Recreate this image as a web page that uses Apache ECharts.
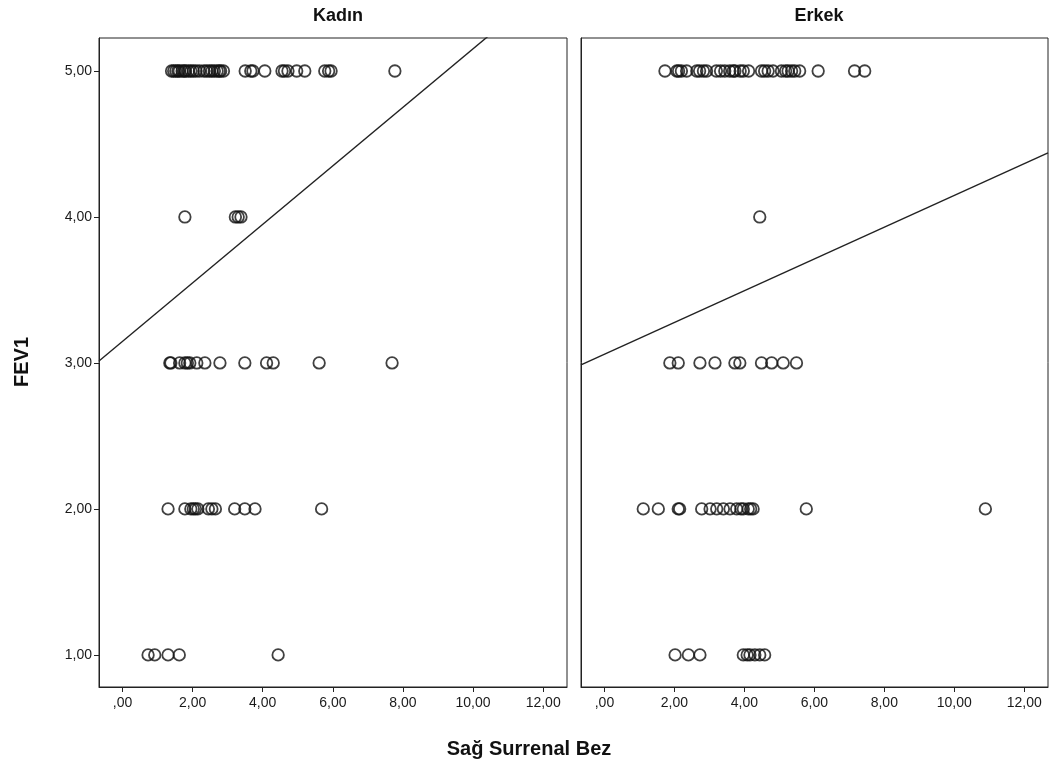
<!DOCTYPE html>
<html>
<head>
<meta charset="utf-8">
<script src="https://cdn.jsdelivr.net/npm/echarts@6/dist/echarts.min.js"></script>
<style>
    html, body { margin: 0; padding: 0; background: #fff; }
    #chart { width: 1058px; height: 769px; }
</style>
</head>
<body>
<div id="chart"></div>
<script>
// panel names
var panels = ['Kadın', 'Erkek'];
var xTicks = [0, 2, 4, 6, 8, 10, 12];
var yTicks = [1, 2, 3, 4, 5];

// Kadın: x values per FEV1 level
var kadin5 = [1.40, 1.46, 1.52, 1.58, 1.62, 1.70, 1.76, 1.80, 1.88, 1.95, 2.02, 2.10, 2.20, 2.32, 2.40, 2.48, 2.55, 2.62, 2.70, 2.76, 2.80, 2.88, 3.50, 3.66, 3.72, 4.06, 4.55, 4.62, 4.72, 4.97, 5.20, 5.77, 5.88, 5.95, 7.77];
var kadin4 = [1.78, 3.22, 3.30, 3.38];
var kadin3 = [1.35, 1.38, 1.63, 1.78, 1.85, 1.92, 2.12, 2.35, 2.78, 3.49, 4.11, 4.30, 5.61, 7.69];
var kadin2 = [1.30, 1.78, 1.95, 2.02, 2.08, 2.15, 2.45, 2.55, 2.65, 3.20, 3.49, 3.78, 5.68];
var kadin1 = [0.73, 0.92, 1.30, 1.62, 4.44];

// Erkek
var erkek5 = [1.73, 2.07, 2.12, 2.20, 2.35, 2.64, 2.72, 2.83, 2.92, 3.20, 3.32, 3.44, 3.58, 3.68, 3.73, 3.88, 3.97, 4.12, 4.49, 4.58, 4.68, 4.82, 5.06, 5.18, 5.25, 5.35, 5.44, 5.58, 6.11, 7.15, 7.44];
var erkek4 = [4.44];
var erkek3 = [1.87, 2.11, 2.73, 3.16, 3.73, 3.87, 4.49, 4.78, 5.11, 5.49];
var erkek2 = [1.11, 1.54, 2.11, 2.15, 2.78, 3.02, 3.21, 3.40, 3.59, 3.78, 3.90, 3.97, 4.11, 4.18, 4.25, 5.77, 10.89];
var erkek1 = [2.02, 2.40, 2.73, 3.97, 4.08, 4.16, 4.30, 4.44, 4.58];

// fit lines: [intercept, slope]
var fitKadin = [3.148, 0.2004];
var fitErkek = [3.059, 0.1088];

var xMin = -0.67, xMax = 12.68;
var yMin = 0.78, yMax = 5.226;

function pts(levels) {
    var out = [];
    levels.forEach(function (arr, i) {
        var y = 5 - i;
        arr.forEach(function (x) { out.push([x, y]); });
    });
    return out;
}
function fitPts(f) {
    return [[xMin, f[0] + f[1] * xMin], [xMax, f[0] + f[1] * xMax]];
}
function fmt(v) {
    if (v === 0) return ',00';
    return v.toFixed(2).replace('.', ',');
}

var chart = echarts.init(document.getElementById('chart'));
var font = 'Liberation Sans, Arial, sans-serif';

var grids = [
    { left: 99, top: 38, width: 468, height: 649 },
    { left: 581, top: 38, width: 467, height: 649 }
];
grids.forEach(function (g) { g.show = true; g.borderColor = '#222'; g.borderWidth = 1; g.backgroundColor = '#fff'; });

var xAxes = [0, 1].map(function (i) {
    return {
        type: 'value', gridIndex: i, min: xMin, max: xMax,
        splitLine: { show: false },
        axisLine: { show: true, onZero: false, lineStyle: { color: '#222' } },
        axisTick: { show: true, length: 5, customValues: xTicks, lineStyle: { color: '#222' } },
        axisLabel: { customValues: xTicks, formatter: fmt, color: '#1a1a1a', fontSize: 14, fontFamily: font, margin: 9 }
    };
});
var yAxes = [0, 1].map(function (i) {
    return {
        type: 'value', gridIndex: i, min: yMin, max: yMax,
        splitLine: { show: false },
        axisLine: { show: true, onZero: false, lineStyle: { color: '#222' } },
        axisTick: { show: i === 0, length: 5, customValues: yTicks, lineStyle: { color: '#222' } },
        axisLabel: { show: i === 0, customValues: yTicks, formatter: fmt, color: '#1a1a1a', fontSize: 14, fontFamily: font, margin: 7 }
    };
});

var scatterStyle = { color: 'rgba(0,0,0,0)', borderColor: '#111', borderWidth: 1.8 };

chart.setOption({
    animation: false,
    title: [
        { text: panels[0], left: 333, top: 2, textAlign: 'center', textStyle: { fontSize: 18, fontWeight: 'bold', fontFamily: font, color: '#111' } },
        { text: panels[1], left: 814, top: 2, textAlign: 'center', textStyle: { fontSize: 18, fontWeight: 'bold', fontFamily: font, color: '#111' } }
    ],
    graphic: [
        { type: 'text', left: 'center', top: 739, style: { text: 'Sağ Surrenal Bez', font: 'bold 20px ' + font, fill: '#111' } },
        { type: 'text', x: 22, y: 362, rotation: Math.PI / 2, style: { text: 'FEV1', font: 'bold 20px ' + font, fill: '#111', align: 'center', verticalAlign: 'middle' } }
    ],
    grid: grids,
    xAxis: xAxes,
    yAxis: yAxes,
    series: [
        { type: 'scatter', xAxisIndex: 0, yAxisIndex: 0, symbol: 'circle', symbolSize: 11.5, itemStyle: scatterStyle,
          data: pts([kadin5, kadin4, kadin3, kadin2, kadin1]) },
        { type: 'scatter', xAxisIndex: 1, yAxisIndex: 1, symbol: 'circle', symbolSize: 11.5, itemStyle: scatterStyle,
          data: pts([erkek5, erkek4, erkek3, erkek2, erkek1]) },
        { type: 'line', xAxisIndex: 0, yAxisIndex: 0, clip: true, showSymbol: false, silent: true,
          lineStyle: { color: '#222', width: 1.4 }, data: fitPts(fitKadin) },
        { type: 'line', xAxisIndex: 1, yAxisIndex: 1, clip: true, showSymbol: false, silent: true,
          lineStyle: { color: '#222', width: 1.4 }, data: fitPts(fitErkek) }
    ]
});
</script>
</body>
</html>
